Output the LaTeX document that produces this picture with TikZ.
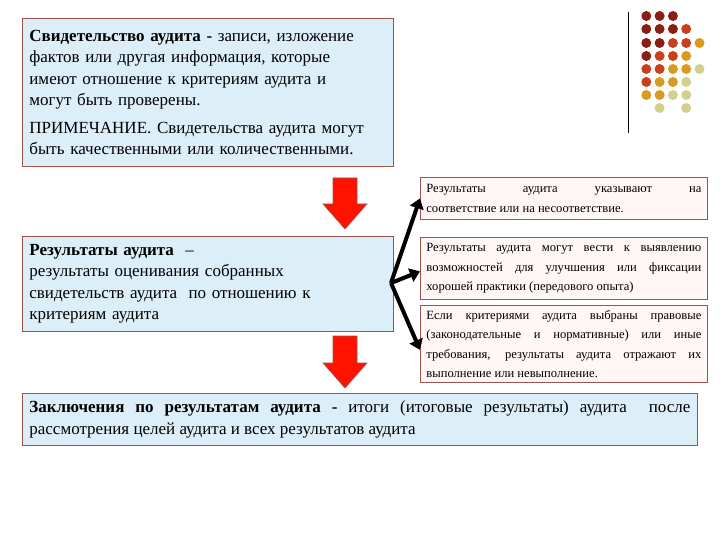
\documentclass[tikz,border=0pt]{standalone}
\usepackage{fontspec}
\setmainfont{Liberation Serif}
\usetikzlibrary{arrows.meta}
\definecolor{bluefill}{HTML}{DCEEF8}
\definecolor{pinkfill}{HTML}{FFF6F6}
\definecolor{frame}{HTML}{A0524A}
\definecolor{dA}{HTML}{8B1E12}
\definecolor{dB}{HTML}{C8401E}
\definecolor{dC}{HTML}{D89A22}
\definecolor{dD}{HTML}{D2D08E}
\tikzset{
  bigbox/.style={draw=frame,fill=bluefill,line width=0.8pt,inner xsep=7pt,inner ysep=5pt,anchor=north west,align=left,font=\fontsize{17}{21.5}\selectfont},
  smallbox/.style={draw=frame,fill=pinkfill,line width=0.8pt,inner xsep=6pt,inner ysep=3pt,anchor=north west,text width=275pt,align=justify,font=\fontsize{12.6}{19.5}\selectfont},
  redarrow/.style={draw=frame,fill=red!85!orange,line width=0.6pt},
  blk/.style={line width=4pt,-{Triangle[length=10pt,width=14pt]}},
  dot/.style={circle,inner sep=0pt,minimum size=10pt}
}
\begin{document}
\begin{tikzpicture}[x=1pt,y=-1pt]
\useasboundingbox (0,0) rectangle (720,540);
\node[bigbox,minimum width=371pt,minimum height=148pt,text width=357pt] (b1) at (22,18) {\textbf{Свидетельство аудита -} записи, изложение\\фактов или другая информация, которые\\имеют отношение к критериям аудита и\\могут быть проверены.\\[6pt]ПРИМЕЧАНИЕ. Свидетельства аудита могут\\быть качественными или количественными.};
\node[bigbox,minimum width=371pt,minimum height=95pt,text width=357pt] (b2) at (22,236) {\textbf{Результаты аудита} \ –\\результаты оценивания собранных\\свидетельств аудита \ по отношению к\\критериям аудита};
\node[bigbox,minimum width=675pt,minimum height=52pt,text width=661pt,align=justify] (b3) at (22,393) {\textbf{Заключения по результатам аудита -} итоги (итоговые результаты) аудита \ после\hspace{12pt}\linebreak рассмотрения целей аудита и всех результатов аудита};
\node[smallbox,minimum height=42pt] (ra) at (420,177) {Результаты аудита указывают на\linebreak соответствие или на несоответствие.};
\node[smallbox,minimum height=62pt] (rb) at (420,237) {Результаты аудита могут вести к выявлению возможностей для улучшения или фиксации хорошей практики (передового опыта)};
\node[smallbox,minimum height=77pt] (rc) at (420,305) {Если критериями аудита выбраны правовые (законодательные и нормативные) или иные требования, результаты аудита отражают их выполнение или невыполнение.};
\draw[redarrow] (333,178) -- (357,178) -- (357,204) -- (367,204) -- (345,229) -- (323,204) -- (333,204) -- cycle;
\draw[redarrow] (333,336) -- (357,336) -- (357,363) -- (367,363) -- (345,388) -- (323,363) -- (333,363) -- cycle;
\coordinate (hub) at (391,283);
\draw[blk] (hub) -- (ra.west);
\draw[blk] (hub) -- ([yshift=-3pt]rb.west);
\draw[blk] (hub) -- ([yshift=-6pt]rc.west);
\draw[line width=1pt] (628,12) -- (628,133);
\foreach \c [count=\i] in {dA,dA,dA}{\node[dot,fill=\c] (p1\i) at ({633+13.3*\i},16) {};}
\foreach \c [count=\i] in {dA,dA,dA,dB}{\node[dot,fill=\c] (p2\i) at ({633+13.3*\i},29) {};}
\foreach \c [count=\i] in {dA,dA,dB,dB,dC}{\node[dot,fill=\c] (p3\i) at ({633+13.3*\i},43) {};}
\foreach \c [count=\i] in {dA,dB,dB,dC}{\node[dot,fill=\c] (p4\i) at ({633+13.3*\i},56) {};}
\foreach \c [count=\i] in {dB,dB,dC,dC,dD}{\node[dot,fill=\c] (p5\i) at ({633+13.3*\i},69) {};}
\foreach \c [count=\i] in {dB,dC,dC,dD}{\node[dot,fill=\c] (p6\i) at ({633+13.3*\i},82) {};}
\foreach \c [count=\i] in {dC,dC,dD,dD}{\node[dot,fill=\c] (p7\i) at ({633+13.3*\i},95) {};}
\node[dot,fill=dD] (p82) at (659.6,108) {};
\node[dot,fill=dD] (p84) at (686.2,108) {};
\end{tikzpicture}
\end{document}
